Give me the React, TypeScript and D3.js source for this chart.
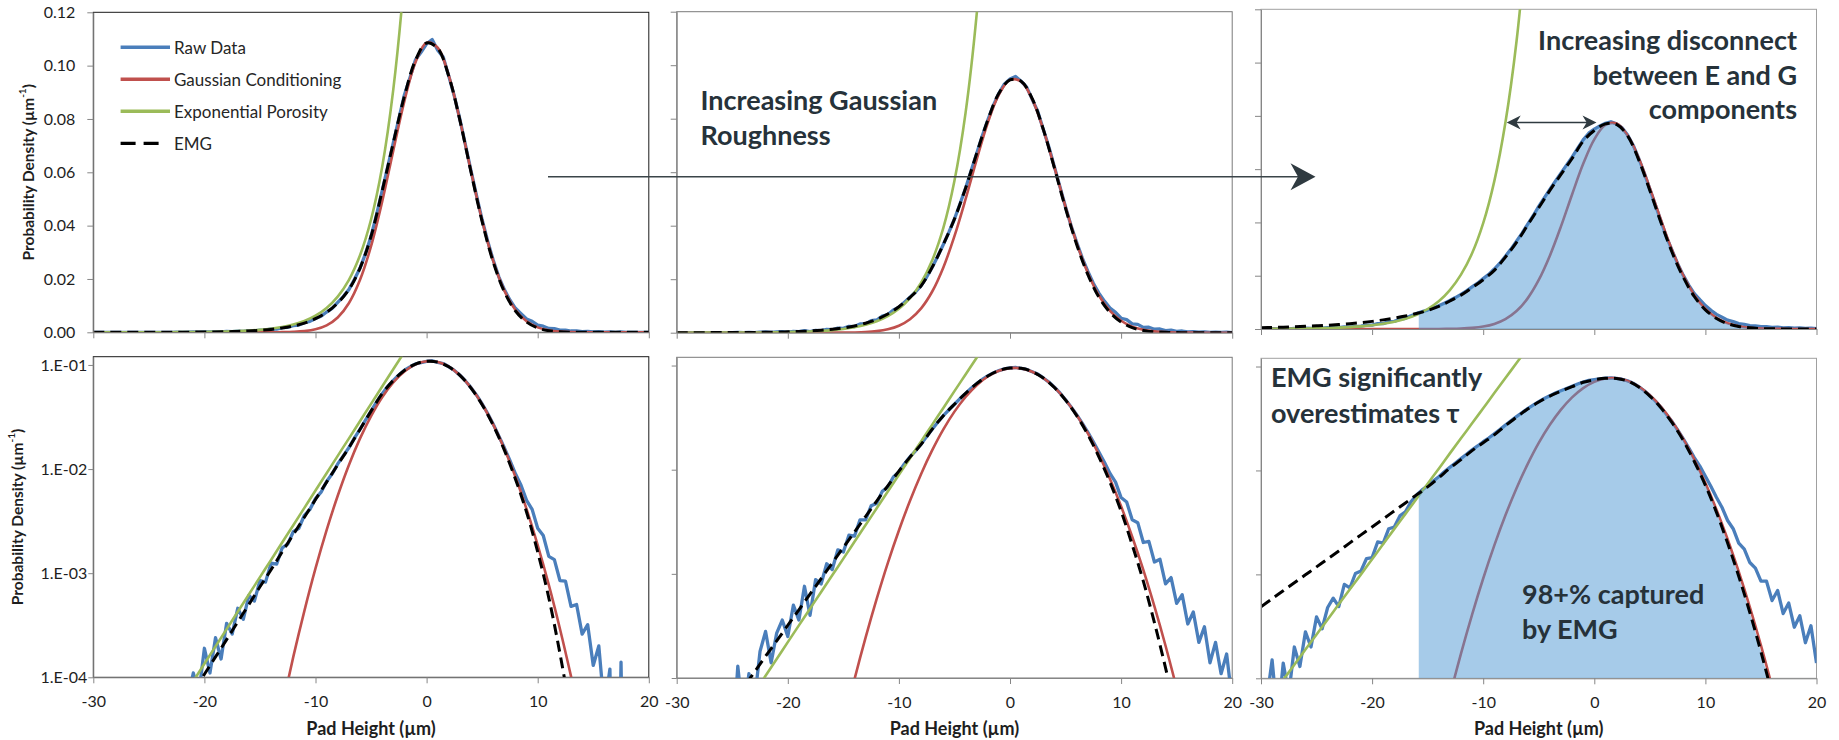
import * as d3 from 'd3';
import React, { useRef, useEffect } from 'react';

// sample grids: fitted curves every 1 um, histogram bins every 0.5 um
const curveX = d3.range(-30, 20.5, 1);
const rawX = d3.range(-30, 20.25, 0.5);

const xTicks = [-30, -20, -10, 0, 10, 20];
const linTicks = [0, 0.02, 0.04, 0.06, 0.08, 0.1, 0.12];
const linLabels = ['0.00', '0.02', '0.04', '0.06', '0.08', '0.10', '0.12'];
const logTicks = [1e-4, 1e-3, 1e-2, 1e-1];
const logLabels = ['1.E-04', '1.E-03', '1.E-02', '1.E-01'];
const legendNames = ['Raw Data', 'Gaussian Conditioning', 'Exponential Porosity', 'EMG'];

// ---- column 1 ----
const raw1 = [
  0, 0, 0, 0, 0, 0, 0, 0, 0, 0,
  0, 0, 0, 0, 0, 3e-5, 0, 6e-5, 1.1e-4, 7e-5,
  1.9e-4, 1.1e-4, 2.4e-4, 1.5e-4, 3.3e-4, 2.6e-4, 4.6e-4, 3.6e-4, 6.1e-4, 5.4e-4,
  8.5e-4, 8.2e-4, 1.25e-3, 1.22e-3, 1.75e-3, 1.9e-3, 2.5e-3, 2.7e-3, 3.6e-3, 4.1e-3,
  5.2e-3, 6.0e-3, 7.6e-3, 9.0e-3, 1.12e-2, 1.34e-2, 1.6e-2, 1.98e-2, 2.4e-2, 2.95e-2,
  3.6e-2, 4.42e-2, 5.3e-2, 6.2e-2, 7.1e-2, 8.0e-2, 8.9e-2, 9.55e-2, 0.1022, 0.105,
  0.1082, 0.1098, 0.1058, 0.1032, 0.096, 0.0885, 0.0798, 0.0702, 0.0605, 0.0512,
  0.0422, 0.0342, 0.027, 0.0208, 0.016, 0.0121, 9.0e-3, 7.0e-3, 5.0e-3, 4.1e-3,
  2.7e-3, 2.3e-3, 1.45e-3, 1.35e-3, 8.5e-4, 8.4e-4, 4.8e-4, 5.0e-4, 2.6e-4, 3.2e-4,
  1.3e-4, 2.0e-4, 5e-5, 1.2e-4, 0, 1.4e-4, 0, 0, 0, 0,
  0,
];
const gauss1 = [
  0, 0, 0, 0, 0, 0, 0, 0, 0, 0,
  0, 0, 0, 0, 1.1e-6, 4.4e-6, 1.57e-5, 5.19e-5, 1.57e-4, 4.35e-4,
  1.11e-3, 2.59e-3, 5.54e-3, 1.09e-2, 1.96e-2, 3.23e-2, 4.9e-2, 6.81e-2, 8.67e-2, 0.1013,
  0.1086, 0.1067, 0.0962, 0.0795, 0.0603, 0.0419, 0.0267, 0.01564, 8.39e-3, 4.13e-3,
  1.86e-3, 7.71e-4, 2.93e-4, 1.02e-4, 3.25e-5, 9.5e-6, 2.5e-6, 6e-7, 0, 0,
  0,
];
const expo1 = [
  2.92e-6, 4.28e-6, 6.29e-6, 9.22e-6, 1.35e-5, 1.98e-5, 2.91e-5, 4.27e-5, 6.27e-5, 9.19e-5,
  1.35e-4, 1.98e-4, 2.9e-4, 4.26e-4, 6.24e-4, 9.16e-4, 1.34e-3, 1.97e-3, 2.89e-3, 4.24e-3,
  6.22e-3, 9.13e-3, 1.34e-2, 1.96e-2, 2.88e-2, 4.23e-2, 6.2e-2, 9.1e-2, 0.1334, 0.196,
  null, null, null, null, null, null, null, null, null, null,
  null, null, null, null, null, null, null, null, null, null,
  null,
];
const emg1 = [
  2.3e-6, 3.4e-6, 5.0e-6, 7.4e-6, 1.08e-5, 1.58e-5, 2.3e-5, 3.4e-5, 5.0e-5, 7.3e-5,
  1.07e-4, 1.57e-4, 2.3e-4, 3.4e-4, 5.0e-4, 7.4e-4, 1.08e-3, 1.6e-3, 2.35e-3, 3.45e-3,
  5.1e-3, 7.5e-3, 1.1e-2, 1.6e-2, 2.4e-2, 3.6e-2, 5.3e-2, 7.1e-2, 8.85e-2, 0.102,
  0.1085, 0.1065, 0.096, 0.0795, 0.06, 0.0415, 0.0263, 0.0152, 8.0e-3, 3.85e-3,
  1.6e-3, 5.8e-4, 1.7e-4, 4.2e-5, 9e-6, 1.6e-6, 2e-7, 0, 0, 0,
  0,
];

// ---- column 2 ----
const raw2 = [
  0, 0, 0, 0, 0, 0, 0, 0, 0, 0,
  2e-5, 1.3e-4, 4e-5, 1.1e-4, 6e-5, 1.8e-4, 2.8e-4, 1.4e-4, 2.7e-4, 3.6e-4,
  2.5e-4, 5.0e-4, 3.6e-4, 7.6e-4, 4.0e-4, 8.8e-4, 8.0e-4, 1.25e-3, 1.1e-3, 1.7e-3,
  1.62e-3, 2.35e-3, 2.3e-3, 3.3e-3, 3.3e-3, 4.5e-3, 4.75e-3, 6.2e-3, 6.8e-3, 8.5e-3,
  9.5e-3, 1.14e-2, 1.33e-2, 1.52e-2, 1.76e-2, 2.08e-2, 2.45e-2, 2.86e-2, 3.3e-2, 3.76e-2,
  4.25e-2, 4.82e-2, 5.4e-2, 6.05e-2, 6.7e-2, 7.35e-2, 7.95e-2, 8.5e-2, 8.95e-2, 9.3e-2,
  9.48e-2, 9.58e-2, 9.4e-2, 9.18e-2, 8.72e-2, 8.27e-2, 7.6e-2, 6.94e-2, 6.2e-2, 5.45e-2,
  4.7e-2, 4.0e-2, 3.38e-2, 2.8e-2, 2.3e-2, 1.85e-2, 1.48e-2, 1.18e-2, 9.2e-3, 7.6e-3,
  5.4e-3, 4.9e-3, 3.3e-3, 3.1e-3, 2.0e-3, 2.05e-3, 1.3e-3, 1.38e-3, 8.0e-4, 9.2e-4,
  5.2e-4, 6.3e-4, 3.3e-4, 4.3e-4, 2.2e-4, 3.1e-4, 1.4e-4, 2.2e-4, 1.1e-4, 1.7e-4,
  6e-5,
];
const gauss2 = [
  0, 0, 0, 0, 0, 0, 0, 0, 0, 0,
  0, 0, 1.2e-6, 4.1e-6, 1.25e-5, 3.6e-5, 9.7e-5, 2.44e-4, 5.75e-4, 1.27e-3,
  2.61e-3, 5.04e-3, 9.11e-3, 1.54e-2, 2.44e-2, 3.61e-2, 4.99e-2, 6.47e-2, 7.85e-2, 8.9e-2,
  9.45e-2, 9.39e-2, 8.73e-2, 7.59e-2, 6.18e-2, 4.7e-2, 3.35e-2, 2.24e-2, 1.39e-2, 8.14e-3,
  4.45e-3, 2.27e-3, 1.09e-3, 4.86e-4, 2.04e-4, 7.97e-5, 2.92e-5, 1.0e-5, 3.2e-6, 9.6e-7,
  0,
];
const expo2 = [
  5.46e-6, 7.9e-6, 1.14e-5, 1.66e-5, 2.4e-5, 3.47e-5, 5.02e-5, 7.27e-5, 1.05e-4, 1.52e-4,
  2.21e-4, 3.2e-4, 4.63e-4, 6.7e-4, 9.7e-4, 1.4e-3, 2.03e-3, 2.94e-3, 4.26e-3, 6.17e-3,
  8.93e-3, 1.29e-2, 1.87e-2, 2.71e-2, 3.92e-2, 5.68e-2, 8.22e-2, 0.119, 0.172, null,
  null, null, null, null, null, null, null, null, null, null,
  null, null, null, null, null, null, null, null, null, null,
  null,
];
const emg2 = [
  1.04e-5, 1.47e-5, 2.07e-5, 2.91e-5, 4.1e-5, 5.78e-5, 8.1e-5, 1.14e-4, 1.62e-4, 2.27e-4,
  3.21e-4, 4.52e-4, 6.38e-4, 9.0e-4, 1.27e-3, 1.79e-3, 2.52e-3, 3.55e-3, 5.0e-3, 7.0e-3,
  9.7e-3, 1.32e-2, 1.75e-2, 2.45e-2, 3.3e-2, 4.25e-2, 5.4e-2, 6.7e-2, 7.95e-2, 8.95e-2,
  9.45e-2, 9.4e-2, 8.75e-2, 7.6e-2, 6.15e-2, 4.65e-2, 3.3e-2, 2.18e-2, 1.33e-2, 7.6e-3,
  4.0e-3, 1.9e-3, 8.5e-4, 3.4e-4, 1.25e-4, 4.2e-5, 1.3e-5, 3.5e-6, 8e-7, 0,
  0,
];

// ---- column 3 ----
const raw3 = [
  0, 6e-5, 1.5e-4, 4e-5, 1.4e-4, 7e-5, 2.0e-4, 1.3e-4, 2.8e-4, 2.0e-4,
  3.9e-4, 3.0e-4, 4.8e-4, 5.9e-4, 4.9e-4, 8.0e-4, 7.4e-4, 1.02e-3, 1.08e-3, 1.42e-3,
  1.45e-3, 2.05e-3, 2.0e-3, 2.75e-3, 2.85e-3, 3.65e-3, 4.0e-3, 5.0e-3, 5.8e-3, 6.5e-3,
  7.1e-3, 7.9e-3, 8.7e-3, 9.7e-3, 1.07e-2, 1.18e-2, 1.3e-2, 1.43e-2, 1.58e-2, 1.72e-2,
  1.89e-2, 2.05e-2, 2.25e-2, 2.47e-2, 2.73e-2, 3.0e-2, 3.3e-2, 3.6e-2, 3.93e-2, 4.25e-2,
  4.6e-2, 4.92e-2, 5.24e-2, 5.55e-2, 5.85e-2, 6.15e-2, 6.45e-2, 6.78e-2, 7.1e-2, 7.35e-2,
  7.5e-2, 7.62e-2, 7.72e-2, 7.78e-2, 7.7e-2, 7.55e-2, 7.28e-2, 6.9e-2, 6.4e-2, 5.85e-2,
  5.25e-2, 4.65e-2, 4.05e-2, 3.45e-2, 2.95e-2, 2.45e-2, 2.02e-2, 1.65e-2, 1.33e-2, 1.1e-2,
  8.8e-3, 7.0e-3, 5.5e-3, 4.4e-3, 3.3e-3, 2.75e-3, 2.0e-3, 1.75e-3, 1.3e-3, 1.15e-3,
  8.6e-4, 8.6e-4, 5.6e-4, 7.0e-4, 4.2e-4, 5.3e-4, 3.1e-4, 4.0e-4, 2.2e-4, 3.2e-4,
  1.4e-4,
];
const gauss3 = [
  0, 0, 0, 0, 0, 0, 0, 0, 0, 0,
  0, 0, 0, 8.5e-7, 2.8e-6, 8.7e-6, 2.52e-5, 6.8e-5, 1.73e-4, 4.11e-4,
  9.13e-4, 1.9e-3, 3.7e-3, 6.75e-3, 1.15e-2, 1.84e-2, 2.75e-2, 3.85e-2, 5.05e-2, 6.2e-2,
  7.12e-2, 7.66e-2, 7.71e-2, 7.26e-2, 6.41e-2, 5.29e-2, 4.09e-2, 2.96e-2, 2.01e-2, 1.27e-2,
  7.55e-3, 4.2e-3, 2.18e-3, 1.06e-3, 4.85e-4, 2.07e-4, 8.3e-5, 3.1e-5, 1.08e-5, 3.5e-6,
  1.1e-6,
];
const expo3 = [
  4.95e-5, 6.92e-5, 9.67e-5, 1.35e-4, 1.89e-4, 2.64e-4, 3.68e-4, 5.15e-4, 7.19e-4, 1.0e-3,
  1.4e-3, 1.96e-3, 2.74e-3, 3.82e-3, 5.34e-3, 7.46e-3, 1.04e-2, 1.46e-2, 2.04e-2, 2.84e-2,
  3.97e-2, 5.55e-2, 7.75e-2, 0.108, 0.151, null, null, null, null, null,
  null, null, null, null, null, null, null, null, null, null,
  null, null, null, null, null, null, null, null, null, null,
  null,
];
const emg3 = [
  4.88e-4, 5.83e-4, 6.95e-4, 8.3e-4, 9.9e-4, 1.18e-3, 1.41e-3, 1.68e-3, 2.01e-3, 2.4e-3,
  2.86e-3, 3.42e-3, 4.08e-3, 4.87e-3, 5.82e-3, 6.95e-3, 8.5e-3, 1.05e-2, 1.27e-2, 1.55e-2,
  1.85e-2, 2.2e-2, 2.7e-2, 3.25e-2, 3.9e-2, 4.55e-2, 5.2e-2, 5.8e-2, 6.4e-2, 7.05e-2,
  7.45e-2, 7.7e-2, 7.68e-2, 7.25e-2, 6.35e-2, 5.2e-2, 4.0e-2, 2.88e-2, 1.95e-2, 1.22e-2,
  7.2e-3, 3.95e-3, 2.0e-3, 9.6e-4, 4.3e-4, 1.8e-4, 7.0e-5, 2.5e-5, 8e-6, 2.4e-6,
  7e-7,
];
const capturedFrom = -15.8; // start of the shaded EMG region in column 3

const columns = [
  { raw: raw1, gauss: gauss1, expo: expo1, emg: emg1 },
  { raw: raw2, gauss: gauss2, expo: expo2, emg: emg2 },
  { raw: raw3, gauss: gauss3, expo: expo3, emg: emg3 },
];

const FONT = 'Lato, "Open Sans", sans-serif';
const BLUE = '#4a7ebb';
const RED = '#c0504d';
const GREEN = '#9bbb59';
const NOTE = '#26323a';
const AXIS = '#868686';

const colLeft = [93.3, 676.7, 1261];
const panelW = 555.5;
const topRows = [[12.3, 332.3], [11.7, 332.7], [9.3, 329]];
const bottomRows = [[356.7, 677.3], [357.3, 678], [358.3, 678.3]];
const borders = ['#1a1a1a', '#7a7a7a', '#a0a0a0'];

function stealth(tx: number, ty: number, dir: number, len: number, half: number) {
  const bx = tx - dir * len;
  const nx = tx - dir * len * 0.7;
  return `M${tx},${ty}L${bx},${ty - half}L${nx},${ty}L${bx},${ty + half}Z`;
}

export default function App() {
  const svgRef = useRef<SVGSVGElement>(null);

  useEffect(() => {
    const svg = d3.select(svgRef.current);
    svg.selectAll('*').remove();
    const defs = svg.append('defs');

    columns.forEach((series, col) => {
      [0, 1].forEach(row => {
        const isLog = row === 1;
        const [top, bottom] = isLog ? bottomRows[col] : topRows[col];
        const left = colLeft[col];
        const right = left + panelW;

        const x = d3.scaleLinear().domain([-30, 20]).range([left, right]);
        const y: any = isLog
          ? d3.scaleLog().domain([1e-4, 0.12]).range([bottom, top])
          : d3.scaleLinear().domain([0, 0.12]).range([bottom, top]);
        const yv = (v: number) => (isLog ? y(Math.max(v, 1e-7)) : y(v));

        // plot frame
        svg.append('rect')
          .attr('x', left).attr('y', top)
          .attr('width', panelW).attr('height', bottom - top)
          .attr('fill', '#fff').attr('stroke', borders[col]).attr('stroke-width', 1);

        const clipId = `clip-${col}-${row}`;
        defs.append('clipPath').attr('id', clipId)
          .append('rect').attr('x', left).attr('y', top)
          .attr('width', panelW).attr('height', bottom - top);

        const plot = svg.append('g').attr('clip-path', `url(#${clipId})`);

        const smooth = d3.line<number | null>()
          .defined(d => d !== null)
          .x((d, i) => x(curveX[i]))
          .y(d => yv(d as number))
          .curve(d3.curveCatmullRom.alpha(0.5));

        const rawLine = d3.line<number>()
          .x((d, i) => x(rawX[i]))
          .y(d => yv(d));

        plot.append('path').attr('d', rawLine(series.raw))
          .attr('fill', 'none').attr('stroke', BLUE).attr('stroke-width', 3.3)
          .attr('stroke-linejoin', 'round');
        plot.append('path').attr('d', smooth(series.gauss))
          .attr('fill', 'none').attr('stroke', RED).attr('stroke-width', 2.6);
        plot.append('path').attr('d', smooth(series.expo))
          .attr('fill', 'none').attr('stroke', GREEN).attr('stroke-width', 2.6);

        if (col === 2) {
          const fillId = `fill-${row}`;
          defs.append('clipPath').attr('id', fillId)
            .append('rect').attr('x', x(capturedFrom)).attr('y', top)
            .attr('width', right - x(capturedFrom)).attr('height', bottom - top);
          const pts = curveX.map((xv, i) => [xv, series.emg[i]] as [number, number])
            .filter(p => p[0] >= -18);
          const area = d3.area<[number, number]>()
            .x(p => x(p[0])).y0(bottom).y1(p => yv(p[1]))
            .curve(d3.curveCatmullRom.alpha(0.5));
          plot.append('g').attr('clip-path', `url(#${fillId})`)
            .append('path').attr('d', area(pts))
            .attr('fill', '#4d97d3').attr('fill-opacity', 0.5);
        }

        plot.append('path').attr('d', smooth(series.emg))
          .attr('fill', 'none').attr('stroke', '#000').attr('stroke-width', 3)
          .attr('stroke-dasharray', '11,6');

        // axes
        const yAxis = (isLog ? d3.axisLeft(y).tickValues(logTicks) : d3.axisLeft(y).tickValues(linTicks))
          .tickSize(isLog ? 5 : 6).tickSizeOuter(0).tickPadding(isLog ? 1 : 12)
          .tickFormat((d: any, i: number) => (col === 0 ? (isLog ? logLabels[i] : linLabels[i]) : ''));
        const gy = svg.append('g').attr('transform', `translate(${left},0)`).call(yAxis as any);
        gy.select('.domain').attr('stroke', AXIS);
        gy.selectAll('line').attr('stroke', AXIS);
        gy.selectAll('text').attr('font-family', FONT).attr('font-size', 16).attr('fill', '#1e1e1e');

        const xAxis = d3.axisBottom(x).tickValues(xTicks).tickSize(6).tickSizeOuter(0)
          .tickFormat(d => (isLog ? String(d) : ''));
        const gx = svg.append('g').attr('transform', `translate(0,${bottom})`).call(xAxis);
        gx.select('.domain').attr('stroke', AXIS);
        gx.selectAll('line').attr('stroke', AXIS);
        gx.selectAll('text').attr('font-family', FONT).attr('font-size', 16).attr('fill', '#1e1e1e')
          .attr('y', 24).attr('dy', '0.35em');

        if (isLog) {
          svg.append('text')
            .attr('x', (left + right) / 2).attr('y', 728)
            .attr('text-anchor', 'middle').attr('dominant-baseline', 'central')
            .attr('font-family', FONT).attr('font-weight', 700).attr('font-size', 18)
            .attr('fill', '#1e1e1e').text('Pad Height (µm)');
        }

        if (col === 0) {
          const t = svg.append('text')
            .attr('transform', `translate(${isLog ? 17 : 27.7},${(top + bottom) / 2}) rotate(-90)`)
            .attr('text-anchor', 'middle').attr('dominant-baseline', 'central')
            .attr('font-family', FONT).attr('font-weight', 700).attr('font-size', 15.5).attr('fill', '#1e1e1e');
          t.append('tspan').text('Probability Density (µm');
          t.append('tspan').attr('dy', -6).attr('font-size', 10).text('-1');
          t.append('tspan').attr('dy', 6).text(')');
        }

        if (col === 0 && !isLog) {
          const rows = [BLUE, RED, GREEN, '#000'];
          rows.forEach((c, i) => {
            const ly = 47.3 + i * 32;
            svg.append('line').attr('x1', 120.6).attr('x2', i === 3 ? 159 : 170).attr('y1', ly).attr('y2', ly)
              .attr('stroke', c).attr('stroke-width', i === 3 ? 3.2 : 3.6)
              .attr('stroke-dasharray', i === 3 ? '15,8' : null);
            svg.append('text').attr('x', 174).attr('y', ly).attr('dominant-baseline', 'central')
              .attr('font-family', FONT).attr('font-size', 17).attr('fill', '#262626')
              .text(legendNames[i]);
          });
        }
      });
    });

    // annotations
    const note = (lines: string[], xPos: number, y0: number, gap: number, anchor: string) => {
      const t = svg.append('text').attr('font-family', FONT).attr('font-weight', 700)
        .attr('font-size', 27).attr('fill', NOTE).attr('text-anchor', anchor);
      lines.forEach((s, i) => t.append('tspan').attr('x', xPos).attr('y', y0 + i * gap).text(s));
    };
    note(['Increasing Gaussian', 'Roughness'], 700.5, 110, 35, 'start');
    note(['Increasing disconnect', 'between E and G', 'components'], 1797, 50, 34.7, 'end');
    note(['EMG significantly', 'overestimates τ'], 1271, 386.7, 36, 'start');
    note(['98+% captured', 'by EMG'], 1522, 604, 34.5, 'start');

    // long arrow across the top row
    svg.append('line').attr('x1', 548).attr('x2', 1300).attr('y1', 176.7).attr('y2', 176.7)
      .attr('stroke', '#3a4449').attr('stroke-width', 1.4);
    svg.append('path').attr('d', stealth(1315.5, 176.7, 1, 25, 13.5)).attr('fill', '#2f3a40');

    // double arrow between E and G components
    svg.append('line').attr('x1', 1512).attr('x2', 1591).attr('y1', 122.5).attr('y2', 122.5)
      .attr('stroke', '#2f3a40').attr('stroke-width', 1.4);
    svg.append('path').attr('d', stealth(1506.7, 122.5, -1, 14, 7)).attr('fill', '#2f3a40');
    svg.append('path').attr('d', stealth(1596.5, 122.5, 1, 14, 7)).attr('fill', '#2f3a40');
  }, []);

  return (
    <svg
      ref={svgRef}
      width={1839}
      height={740}
      style={{ position: 'absolute', left: 0, top: 0, background: '#fff' }}
    />
  );
}
